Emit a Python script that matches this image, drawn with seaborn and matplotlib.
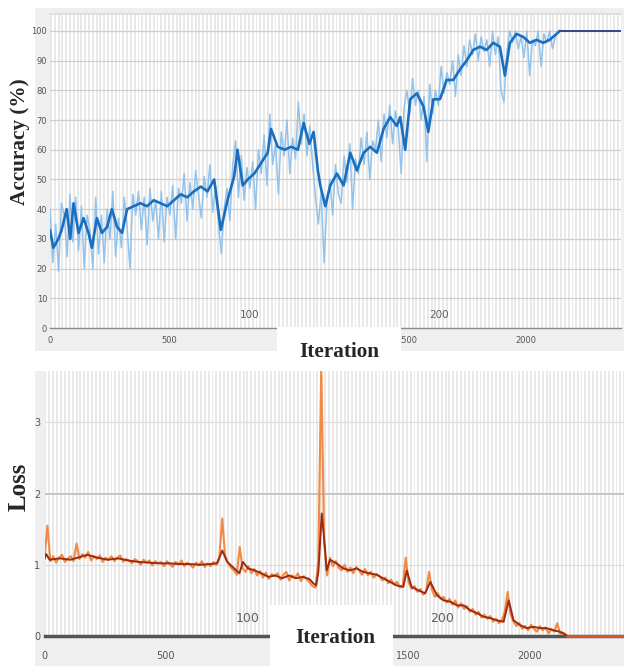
import numpy as np
import pandas as pd
import matplotlib
matplotlib.use("Agg")
import matplotlib.pyplot as plt
from matplotlib.patches import Rectangle
import seaborn as sns

# ---- training accuracy (%) ----
acc_smooth_iter = [0, 14, 35, 49, 70, 85, 99, 120, 141, 162,
                   176, 197, 218, 240, 260, 282, 303, 324, 352, 380,
                   408, 436, 465, 493, 521, 549, 577, 605, 634, 662,
                   690, 718, 746, 774, 788, 810, 831, 859, 887, 915,
                   929, 957, 986, 1014, 1042, 1066, 1090, 1108, 1126, 1136,
                   1157, 1178, 1206, 1234, 1262, 1290, 1318, 1346, 1374, 1402,
                   1430, 1458, 1472, 1493, 1514, 1542, 1570, 1590, 1611, 1639,
                   1667, 1695, 1723, 1751, 1779, 1807, 1835, 1863, 1891, 1912,
                   1933, 1961, 1989, 2017, 2045, 2073, 2100, 2129, 2143]
acc_smooth = [33, 27, 30, 33, 40, 30, 42, 32, 37, 32,
              27, 37, 32, 34, 40, 34, 32, 40, 41, 42,
              41, 43, 42, 41, 43, 45, 44, 46, 47.6, 46,
              50, 33, 43, 51, 60, 48, 50, 52, 55.5, 59,
              67, 61, 60, 61, 60, 69, 62, 66, 53, 48,
              41, 48, 52, 48, 59, 53, 59, 61, 59, 67,
              71, 68, 71, 60, 77, 79, 74.5, 66, 77, 77,
              83.5, 83.5, 87, 90, 93.6, 94.7, 93.6, 96, 94.7, 85,
              96, 99, 98, 96, 97, 96, 97, 99, 100]

# per-iteration accuracy, one value every raw_step iterations
raw_step = 12
acc_raw = [40, 22, 35, 19, 42, 38, 24, 45, 29, 44,
           26, 41, 20, 38, 33, 20, 44, 25, 38, 22,
           40, 30, 46, 24, 37, 27, 44, 34, 20, 45,
           38, 46, 33, 44, 28, 47, 36, 43, 30, 46,
           29, 44, 38, 48, 30, 47, 42, 52, 36, 49,
           40, 53, 45, 37, 51, 44, 55, 39, 48, 35,
           25, 40, 47, 36, 55, 63, 44, 58, 43, 54,
           47, 56, 40, 60, 52, 65, 48, 72, 55, 62,
           45, 66, 58, 70, 52, 64, 57, 76, 62, 72,
           58, 68, 55, 44, 35, 46, 22, 42, 50, 38,
           55, 45, 42, 58, 49, 62, 40, 57, 52, 64,
           55, 66, 50, 63, 60, 70, 56, 72, 64, 75,
           62, 73, 67, 52, 74, 80, 72, 84, 75, 80,
           70, 78, 56, 82, 72, 80, 75, 88, 79, 86,
           82, 90, 78, 92, 85, 95, 88, 97, 92, 99,
           90, 98, 93, 97, 88, 100, 92, 98, 80, 76,
           93, 100, 96, 100, 94, 98, 91, 100, 85, 97,
           95, 100, 88, 99, 96, 100, 94, 98, 100, 100]
acc_plateau_iter = [2143, 2400]
acc_plateau = [100, 100]

# ---- training loss ----
loss_smooth_iter = [0, 7, 21, 63, 106, 148, 176, 218, 260, 303,
                    345, 387, 429, 472, 514, 556, 598, 641, 683, 711,
                    732, 753, 781, 803, 817, 838, 866, 894, 922, 950,
                    979, 1007, 1035, 1063, 1091, 1107, 1119, 1128, 1142, 1155,
                    1162, 1176, 1203, 1230, 1258, 1285, 1313, 1340, 1368, 1395,
                    1423, 1450, 1478, 1492, 1512, 1540, 1568, 1589, 1617, 1644,
                    1672, 1699, 1727, 1754, 1782, 1809, 1837, 1864, 1891, 1912,
                    1932, 1960, 1987, 2014, 2041, 2068, 2096, 2123, 2151]
loss_smooth = [1.08, 1.15, 1.07, 1.09, 1.07, 1.11, 1.14, 1.10, 1.07, 1.09,
               1.06, 1.04, 1.03, 1.02, 1.02, 1.01, 1.01, 1.00, 1.01, 1.02,
               1.20, 1.04, 0.95, 0.88, 1.04, 0.95, 0.92, 0.88, 0.83, 0.85,
               0.81, 0.85, 0.81, 0.83, 0.80, 0.74, 0.71, 0.90, 1.72, 1.25,
               0.92, 1.07, 1.02, 0.95, 0.92, 0.95, 0.90, 0.88, 0.86, 0.81,
               0.76, 0.71, 0.69, 0.92, 0.69, 0.64, 0.60, 0.76, 0.57, 0.50,
               0.48, 0.43, 0.43, 0.36, 0.32, 0.27, 0.25, 0.22, 0.20, 0.50,
               0.22, 0.15, 0.11, 0.13, 0.11, 0.11, 0.08, 0.06, 0.01]
loss_raw = [1.10, 1.55, 1.05, 1.12, 1.03, 1.10, 1.14, 1.04, 1.09, 1.12,
            1.05, 1.30, 1.08, 1.15, 1.10, 1.18, 1.06, 1.12, 1.08, 1.13,
            1.04, 1.10, 1.07, 1.12, 1.05, 1.10, 1.13, 1.04, 1.08, 1.06,
            1.02, 1.08, 1.05, 1.00, 1.07, 1.03, 1.06, 0.99, 1.05, 1.02,
            1.04, 0.98, 1.05, 1.01, 0.97, 1.04, 1.00, 1.06, 0.98, 1.03,
            1.00, 0.96, 1.03, 0.99, 1.05, 0.97, 1.02, 0.98, 1.04, 1.00,
            1.10, 1.65, 1.12, 1.02, 0.96, 0.92, 0.86, 1.25, 0.95, 0.90,
            0.98, 0.88, 0.94, 0.85, 0.91, 0.82, 0.89, 0.80, 0.87, 0.84,
            0.88, 0.79, 0.86, 0.90, 0.78, 0.85, 0.82, 0.88, 0.77, 0.84,
            0.80, 0.75, 0.70, 0.68, 1.05, 3.80, 1.30, 0.85, 1.10, 0.98,
            1.05, 0.96, 0.92, 1.00, 0.90, 0.96, 0.88, 0.97, 0.92, 0.86,
            0.94, 0.85, 0.90, 0.82, 0.87, 0.84, 0.78, 0.82, 0.74, 0.79,
            0.72, 0.76, 0.68, 0.72, 1.10, 0.75, 0.66, 0.70, 0.62, 0.66,
            0.58, 0.63, 0.90, 0.65, 0.55, 0.60, 0.52, 0.55, 0.47, 0.52,
            0.44, 0.50, 0.40, 0.46, 0.38, 0.42, 0.34, 0.38, 0.30, 0.34,
            0.26, 0.30, 0.24, 0.28, 0.20, 0.24, 0.18, 0.22, 0.35, 0.62,
            0.30, 0.20, 0.14, 0.18, 0.10, 0.14, 0.08, 0.16, 0.10, 0.06,
            0.14, 0.08, 0.12, 0.04, 0.10, 0.06, 0.18, 0.03, 0.05, 0.01]
loss_plateau_iter = [2151, 2390]
loss_plateau = [0, 0]

# ---- axis annotations ----
iter_ticks = [0, 500, 1000, 1500, 2000]
iter_tick_labels = ["0", "500", "1000", "1500", "2000"]
acc_ticks = [0, 10, 20, 30, 40, 50, 60, 70, 80, 90, 100]
loss_ticks = [0, 1, 2, 3]
iters_per_epoch = 8
n_epochs = 300
epoch_labels = [100, 200, 300]

raw_iter = np.arange(len(acc_raw)) * raw_step
acc_raw_df = pd.DataFrame({"iteration": raw_iter, "accuracy": acc_raw})
acc_smooth_df = pd.DataFrame({"iteration": acc_smooth_iter, "accuracy": acc_smooth})
loss_raw_df = pd.DataFrame({"iteration": raw_iter, "loss": loss_raw})
loss_smooth_df = pd.DataFrame({"iteration": loss_smooth_iter, "loss": loss_smooth})

sns.set_theme(style="white")
plt.rcParams["font.family"] = ["DejaVu Sans"]

W, H = 624, 666
fig = plt.figure(figsize=(W / 100, H / 100), dpi=100)
fig.patch.set_facecolor("white")


def frac_box(x0, y0, x1, y1):
    """pixel box (top-left origin) -> figure fraction rect"""
    return x0 / W, (H - y1) / H, (x1 - x0) / W, (y1 - y0) / H


# light gray panel backgrounds
for box in [(35, 8, 624, 351), (35, 371, 624, 666)]:
    l, b, w, h = frac_box(*box)
    fig.add_artist(Rectangle((l, b), w, h, transform=fig.transFigure,
                             facecolor="#efefef", edgecolor="none", zorder=-1))

ax1 = fig.add_axes(frac_box(50, 14, 621, 328))
ax2 = fig.add_axes(frac_box(44.5, 371, 624, 636))

tick_color = "#4a4a4a"
for ax in (ax1, ax2):
    ax.set_facecolor("white")
    # alternating epoch shading
    for e in range(0, n_epochs, 2):
        ax.axvspan(e * iters_per_epoch, (e + 1) * iters_per_epoch,
                   color="#e9e9e9", lw=0, zorder=0)
    ax.set_xticks(iter_ticks)
    ax.set_xticklabels(iter_tick_labels)
    for s in ("left", "right"):
        ax.spines[s].set_visible(False)

# ---- accuracy panel ----
ax1.set_xlim(0, 2400)
ax1.set_ylim(0, 105.7)
for v in acc_ticks[1:]:
    ax1.axhline(v, color="#cfcfcf", lw=0.9, zorder=0.5)
sns.lineplot(data=acc_raw_df, x="iteration", y="accuracy", ax=ax1,
             color="#92c3ec", linewidth=1.1, estimator=None, zorder=2)
sns.lineplot(data=acc_smooth_df, x="iteration", y="accuracy", ax=ax1,
             color="#1b6ebd", linewidth=1.9, estimator=None, zorder=3)
ax1.plot(acc_plateau_iter, acc_plateau, color="#34458c", lw=1.4, zorder=3)
ax1.set_yticks(acc_ticks)
ax1.set_yticklabels([str(t) for t in acc_ticks])
ax1.tick_params(axis="x", direction="in", length=5, width=1, color=tick_color,
                labelsize=6, labelcolor="#555555", pad=6)
ax1.tick_params(axis="y", direction="in", length=3.5, width=1.1, color=tick_color,
                labelsize=6, labelcolor="#555555", pad=2)
ax1.spines["top"].set_color("#dcdcdc")
ax1.spines["bottom"].set_color("#8a8a8a")
ax1.spines["bottom"].set_linewidth(1.0)
for ep in epoch_labels:
    ax1.text(ep * iters_per_epoch - 4, 4.5, str(ep), fontsize=7.5, color="#606060",
             ha="left", va="center", clip_on=True)
ax1.set_xlabel("")
ax1.set_ylabel("")

# ---- loss panel ----
ax2.set_xlim(0, 2387)
ax2.set_ylim(0, 3.72)
for v, c, lw in [(1, "#dedede", 0.9), (2, "#c4c4c4", 1.4), (3, "#dedede", 0.9)]:
    ax2.axhline(v, color=c, lw=lw, zorder=0.5)
sns.lineplot(data=loss_raw_df, x="iteration", y="loss", ax=ax2,
             color="#f08a45", linewidth=1.5, estimator=None, zorder=2)
sns.lineplot(data=loss_smooth_df, x="iteration", y="loss", ax=ax2,
             color="#9b2a10", linewidth=1.4, estimator=None, zorder=3)
ax2.set_yticks(loss_ticks)
ax2.set_yticklabels([str(t) for t in loss_ticks])
ax2.tick_params(axis="x", direction="in", length=7, width=1, color=tick_color,
                labelsize=7, labelcolor="#555555", pad=11)
ax2.tick_params(axis="y", direction="in", length=4, width=1.1, color=tick_color,
                labelsize=7, labelcolor="#555555", pad=3)
ax2.spines["top"].set_visible(False)
ax2.spines["bottom"].set_color("#555555")
ax2.spines["bottom"].set_linewidth(2.5)
ax2.plot(loss_plateau_iter, loss_plateau, color="#e0542a", lw=2.0,
         zorder=4, clip_on=False)
for ep in epoch_labels:
    ax2.text(ep * iters_per_epoch - 12, 0.25, str(ep), fontsize=9, color="#606060",
             ha="left", va="center", clip_on=True)
ax2.set_xlabel("")
ax2.set_ylabel("")

# ---- titles / axis names ----
serif = ["Liberation Serif", "DejaVu Serif"]
for box, (tx, ty) in [((277, 327, 401, 370), (339, 352)),
                      ((270, 605, 393, 666), (335, 638))]:
    l, b, w, h = frac_box(*box)
    fig.add_artist(Rectangle((l, b), w, h, transform=fig.transFigure,
                             facecolor="white", edgecolor="none", zorder=5))
    fig.text(tx / W, 1 - ty / H, "Iteration", family=serif, fontweight="bold",
             fontsize=15.3, ha="center", va="center", zorder=6)

fig.text(20 / W, 1 - 142 / H, "Accuracy (%)", family=serif, fontweight="bold",
         fontsize=15.3, rotation=90, ha="center", va="center")
fig.text(19 / W, 1 - 487 / H, "Loss", family=serif, fontweight="bold",
         fontsize=18, rotation=90, ha="center", va="center")

fig.savefig("out.png", dpi=100, facecolor="white")
